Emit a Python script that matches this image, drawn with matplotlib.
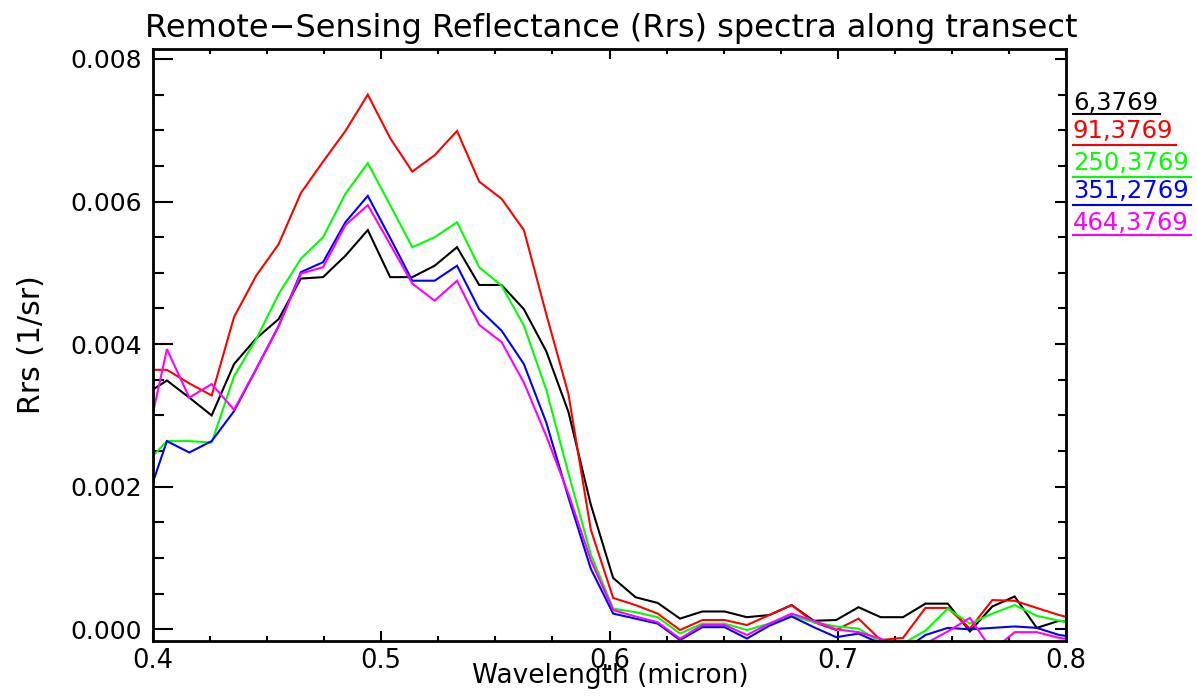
import matplotlib
matplotlib.use("Agg")
import matplotlib.pyplot as plt
from matplotlib.ticker import MultipleLocator, FormatStrFormatter
from matplotlib.lines import Line2D

# ---------------- data ----------------
wavelength = [0.3964, 0.4061, 0.4159, 0.4257, 0.4355, 0.4452, 0.4550, 0.4648, 0.4745,
              0.4843, 0.4941, 0.5039, 0.5136, 0.5234, 0.5332, 0.5429, 0.5527, 0.5625,
              0.5723, 0.5820, 0.5918, 0.6016, 0.6114, 0.6211, 0.6309, 0.6407, 0.6504,
              0.6602, 0.6700, 0.6798, 0.6895, 0.6993, 0.7091, 0.7188, 0.7286, 0.7384,
              0.7482, 0.7579, 0.7677, 0.7775, 0.7872, 0.7970, 0.8068]

rrs_6_3769 = [0.00329, 0.00349, 0.00325, 0.00300, 0.00372, 0.00408, 0.00435, 0.00492, 0.00494,
              0.00524, 0.00560, 0.00494, 0.00494, 0.00510, 0.00536, 0.00483, 0.00483, 0.00449,
              0.00390, 0.00305, 0.00175, 0.00072, 0.00045, 0.00037, 0.00015, 0.00025, 0.00025,
              0.00017, 0.00020, 0.00034, 0.00012, 0.00013, 0.00031, 0.00017, 0.00017, 0.00036,
              0.00036, -0.00003, 0.00032, 0.00046, 0.00002, 0.00012, 0.00008]

rrs_91_3769 = [0.00364, 0.00364, 0.00345, 0.00328, 0.00438, 0.00496, 0.00540, 0.00612, 0.00656,
               0.00699, 0.00750, 0.00689, 0.00642, 0.00665, 0.00699, 0.00628, 0.00604, 0.00560,
               0.00442, 0.00330, 0.00140, 0.00044, 0.00034, 0.00022, -0.00001, 0.00013, 0.00013,
               0.00006, 0.00020, 0.00034, 0.00010, -0.00001, 0.00015, -0.00015, -0.00012, 0.00030,
               0.00030, 0.00001, 0.00041, 0.00040, 0.00030, 0.00020, 0.00012]

rrs_250_3769 = [0.00231, 0.00264, 0.00264, 0.00262, 0.00355, 0.00407, 0.00470, 0.00520, 0.00550,
                0.00611, 0.00654, 0.00595, 0.00536, 0.00550, 0.00571, 0.00508, 0.00482, 0.00426,
                0.00336, 0.00219, 0.00105, 0.00029, 0.00024, 0.00017, -0.00006, 0.00008, 0.00008,
                -0.00001, 0.00008, 0.00019, 0.00010, 0.00004, 0.00001, -0.00018, -0.00020, -0.00002,
                0.00029, 0.00008, 0.00022, 0.00034, 0.00019, 0.00012, 0.00008]

rrs_351_2769 = [0.00173, 0.00264, 0.00248, 0.00264, 0.00306, 0.00365, 0.00425, 0.00501, 0.00515,
                0.00571, 0.00608, 0.00549, 0.00489, 0.00489, 0.00510, 0.00449, 0.00419, 0.00372,
                0.00290, 0.00185, 0.00085, 0.00022, 0.00015, 0.00008, -0.00015, 0.00003, 0.00003,
                -0.00013, 0.00005, 0.00018, 0.00003, -0.00011, -0.00006, -0.00020, -0.00030, -0.00008,
                0.00002, 0.00000, 0.00002, 0.00004, 0.00002, -0.00008, -0.00012]

rrs_464_3769 = [0.00251, 0.00393, 0.00325, 0.00344, 0.00308, 0.00365, 0.00425, 0.00499, 0.00508,
                0.00567, 0.00595, 0.00540, 0.00485, 0.00461, 0.00489, 0.00427, 0.00403, 0.00346,
                0.00271, 0.00190, 0.00097, 0.00027, 0.00018, 0.00010, -0.00013, 0.00006, 0.00006,
                -0.00008, 0.00008, 0.00022, 0.00012, 0.00000, -0.00004, -0.00013, -0.00030, -0.00020,
                -0.00003, 0.00016, -0.00030, -0.00004, -0.00004, -0.00012, -0.00016]

labels = ["6,3769", "91,3769", "250,3769", "351,2769", "464,3769"]
colors = ["#000000", "#ff0000", "#00ff00", "#0000ff", "#ff00ff"]
series = [rrs_6_3769, rrs_91_3769, rrs_250_3769, rrs_351_2769, rrs_464_3769]

title = "Remote\u2212Sensing Reflectance (Rrs) spectra along transect"
xlabel = "Wavelength (micron)"
ylabel = "Rrs (1/sr)"

# ---------------- figure ----------------
W, H = 1197, 697
fig = plt.figure(figsize=(W / 100, H / 100), dpi=100)
L, R, T, B = 153, 1066, 49, 641
ax = fig.add_axes([L / W, 1 - B / H, (R - L) / W, (B - T) / H])

for y, c in zip(series, colors):
    ax.plot(wavelength, y, color=c, lw=1.5, solid_joinstyle="miter")

ax.set_xlim(0.4, 0.8)
ax.set_ylim(-0.000164, 0.00814)

ax.xaxis.set_major_locator(MultipleLocator(0.1))
ax.xaxis.set_minor_locator(MultipleLocator(0.025))
ax.yaxis.set_major_locator(MultipleLocator(0.002))
ax.yaxis.set_minor_locator(MultipleLocator(0.0005))
ax.yaxis.set_major_formatter(FormatStrFormatter("%.3f"))
ax.xaxis.set_major_formatter(FormatStrFormatter("%.1f"))

px = 0.72
ax.tick_params(axis="x", which="major", direction="in", length=10 * px, width=1.5,
               top=True, bottom=True, labelsize=18.5, pad=5, colors="black")
ax.tick_params(axis="x", which="minor", direction="in", length=5 * px, width=1.5,
               top=True, bottom=True)
ax.tick_params(axis="y", which="major", direction="in", length=20 * px, width=1.5,
               left=True, right=False, labelsize=18, pad=8)
ax.tick_params(axis="y", which="minor", direction="in", length=11 * px, width=1.5,
               left=True, right=False)

for s in ax.spines.values():
    s.set_linewidth(2)

# right-hand ticks (shorter)
axr = ax.twinx()
axr.set_ylim(ax.get_ylim())
axr.yaxis.set_major_locator(MultipleLocator(0.002))
axr.yaxis.set_minor_locator(MultipleLocator(0.0005))
axr.tick_params(axis="y", which="major", direction="in", length=11 * px, width=1.5,
                labelright=False)
axr.tick_params(axis="y", which="minor", direction="in", length=8 * px, width=1.5)
for s in axr.spines.values():
    s.set_visible(False)

# texts
fig.text(611 / W, 1 - 37 / H, title, ha="center", va="baseline", fontsize=23)
fig.text(610 / W, 1 - 683 / H, xlabel, ha="center", va="baseline", fontsize=19)
fig.text(32 / W, 1 - 345 / H, ylabel, ha="center", va="center", rotation=90, fontsize=21.5)

# legend: coloured labels with underline
baselines = [110, 138, 170, 198, 230]
underlines = [114, 145, 177, 205, 235]
fig.canvas.draw()
renderer = fig.canvas.get_renderer()
for lab, c, b, u in zip(labels, colors, baselines, underlines):
    t = fig.text(1073 / W, 1 - b / H, lab, color=c, fontsize=17.5, va="baseline", ha="left")
    bb = t.get_window_extent(renderer=renderer)
    x0 = 1073 / W
    x1 = (bb.x1 + 2) / W
    fig.add_artist(Line2D([x0, x1], [1 - u / H, 1 - u / H], transform=fig.transFigure,
                          color=c, lw=1.5))

fig.savefig("out.png", dpi=100)
